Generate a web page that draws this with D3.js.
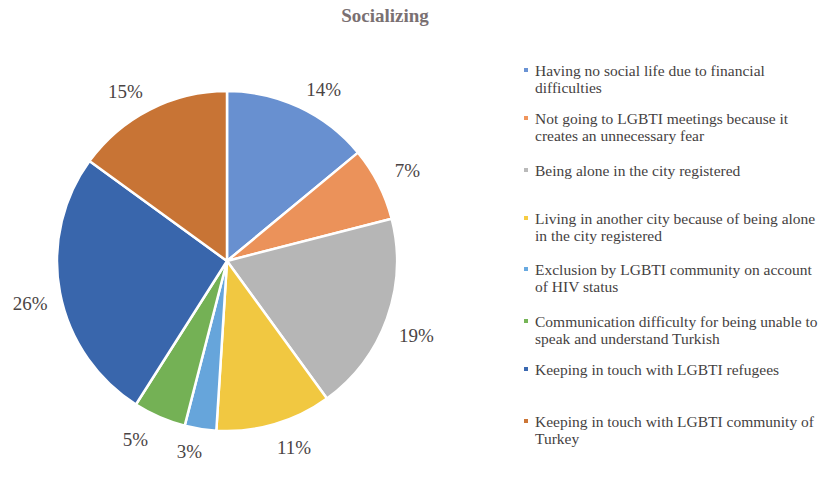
<!DOCTYPE html>
<html>
<head>
<meta charset="utf-8">
<script src="https://cdn.jsdelivr.net/npm/d3@7"></script>
<style>
  html, body { margin: 0; padding: 0; background: #ffffff; }
  svg { display: block; }
</style>
</head>
<body>
<svg id="chart" width="819" height="485"></svg>
<script>
// Categories (legend order = slice order, clockwise from 12 o'clock)
const categories = [
  ["Having no social life due to financial", "difficulties"],
  ["Not going to LGBTI meetings because it", "creates an unnecessary fear"],
  ["Being alone in the city registered"],
  ["Living in another city because of being alone", "in the city registered"],
  ["Exclusion by LGBTI community on account", "of HIV status"],
  ["Communication difficulty for being unable to", "speak and understand Turkish"],
  ["Keeping in touch with LGBTI refugees"],
  ["Keeping in touch with LGBTI community of", "Turkey"]
];
const values = [14, 7, 19, 11, 3, 5, 26, 15];
const colors = ["#6a93d4", "#f0955c", "#bababa", "#f6cc42", "#68a9e0", "#76b557", "#3a68b0", "#cc7636"];
const legendY = [76, 124, 176, 224, 275, 327, 375, 427];
const title = "Socializing";

const serif = "'Liberation Serif', 'Times New Roman', 'DejaVu Serif', serif";
const svg = d3.select("#chart");
const cx = 227, cy = 261, r = 170;

// Title
svg.append("text")
  .attr("x", 385).attr("y", 22)
  .attr("text-anchor", "middle")
  .attr("font-family", serif)
  .attr("font-weight", "bold")
  .attr("font-size", 19)
  .attr("fill", "#7a7072")
  .text(title);

// Soft radial shading per slice
const defs = svg.append("defs");
colors.forEach((c, i) => {
  const g = defs.append("radialGradient")
    .attr("id", "grad" + i)
    .attr("gradientUnits", "userSpaceOnUse")
    .attr("cx", cx).attr("cy", cy).attr("r", r);
  g.append("stop").attr("offset", "0%").attr("stop-color", d3.color(c).brighter(0.12));
  g.append("stop").attr("offset", "100%").attr("stop-color", d3.color(c).darker(0.06));
});

const pie = d3.pie().value(d => d).sort(null);
const arcs = pie(values);
const arc = d3.arc().innerRadius(0).outerRadius(r);

// Outside-end labels: the label box touches a circle just outside the pie,
// so its centre is pushed outward by half its width/height.
const labelR = 180, halfW = 20, halfH = 11;
const clamp = v => Math.max(-1, Math.min(1, v));
function labelPos(d) {
  const a = (d.startAngle + d.endAngle) / 2;
  const s = Math.sin(a), c = Math.cos(a);
  return [labelR * s + halfW * clamp(3 * s), -labelR * c - halfH * clamp(3 * c) + 2];
}

const g = svg.append("g").attr("transform", `translate(${cx},${cy})`);
g.selectAll("path")
  .data(arcs)
  .join("path")
  .attr("d", arc)
  .attr("fill", (d, i) => `url(#grad${i})`)
  .attr("stroke", "#ffffff")
  .attr("stroke-width", 2.5);

g.selectAll("text.lbl")
  .data(arcs)
  .join("text")
  .attr("class", "lbl")
  .attr("transform", d => `translate(${labelPos(d)})`)
  .attr("text-anchor", "middle")
  .attr("dy", "0.35em")
  .attr("font-family", serif)
  .attr("font-size", 19)
  .attr("fill", "#4a4444")
  .text(d => d.data + "%");

// Legend
const legend = svg.append("g");
categories.forEach((lines, i) => {
  const y = legendY[i];
  legend.append("rect")
    .attr("x", 524).attr("y", y - 8)
    .attr("width", 4).attr("height", 4)
    .attr("fill", colors[i]);
  const t = legend.append("text")
    .attr("x", 535).attr("y", y)
    .attr("font-family", serif)
    .attr("font-size", 15.5)
    .attr("fill", "#453f3f");
  lines.forEach((line, j) => {
    t.append("tspan").attr("x", 535).attr("y", y + j * 17).text(line);
  });
});
</script>
</body>
</html>
